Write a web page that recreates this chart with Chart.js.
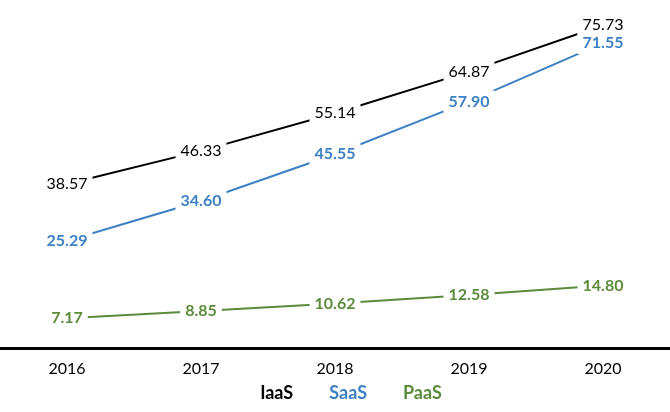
<!DOCTYPE html>
<html>
<head>
<meta charset="utf-8">
<script src="https://cdn.jsdelivr.net/npm/chart.js@4"></script>
<style>
  html, body { margin: 0; padding: 0; background: #fff; }
  #wrap { width: 670px; height: 412px; }
</style>
</head>
<body>
<div id="wrap"><canvas id="cloud-chart"></canvas></div>
<script>
const years = ['2016', '2017', '2018', '2019', '2020'];
const iaas = [38.57, 46.33, 55.14, 64.87, 75.73];
const saas = [25.29, 34.60, 45.55, 57.90, 71.55];
const paas = [7.17, 8.85, 10.62, 12.58, 14.80];

const fontFamily = 'Lato, "Open Sans", sans-serif';

// draws each value on a white box so the line breaks around it
const pointLabels = {
    id: 'pointLabels',
    afterDatasetsDraw(chart) {
        const ctx = chart.ctx;
        chart.data.datasets.forEach((ds, i) => {
            const meta = chart.getDatasetMeta(i);
            ctx.save();
            ctx.font = (ds.labelBold ? 'bold ' : '') + '16px ' + fontFamily;
            ctx.textAlign = 'center';
            ctx.textBaseline = 'middle';
            meta.data.forEach((pt, j) => {
                const txt = ds.data[j].toFixed(2);
                const w = ctx.measureText(txt).width + 10;
                ctx.fillStyle = '#fff';
                ctx.fillRect(pt.x - w / 2, pt.y - 11, w, 22);
                ctx.fillStyle = ds.borderColor;
                ctx.fillText(txt, pt.x, pt.y);
            });
            ctx.restore();
        });
    }
};

function lineSet(label, data, color, bold) {
    return {
        label: label,
        data: data,
        borderColor: color,
        backgroundColor: color,
        borderWidth: 2,
        pointRadius: 0,
        tension: 0,
        labelBold: bold
    };
}

new Chart(document.getElementById('cloud-chart'), {
    type: 'line',
    data: {
        labels: years,
        datasets: [
            lineSet('IaaS', iaas, '#000000', false),
            lineSet('SaaS', saas, '#3d80c4', true),
            lineSet('PaaS', paas, '#5b8b3b', true)
        ]
    },
    plugins: [pointLabels],
    options: {
        responsive: true,
        maintainAspectRatio: false,
        animation: false,
        layout: { padding: { top: 7, left: 0, right: 0, bottom: 0 } },
        scales: {
            x: {
                offset: true,
                grid: { display: false },
                border: { display: true, color: '#000', width: 3 },
                ticks: { color: '#000', font: { family: fontFamily, size: 16 }, padding: 2 }
            },
            y: {
                display: false,
                min: 0,
                max: 80
            }
        },
        plugins: {
            tooltip: { enabled: false },
            legend: {
                position: 'bottom',
                labels: {
                    boxWidth: 23,
                    boxHeight: 1,
                    padding: 4,
                    font: { family: fontFamily, size: 18, weight: 'bold' },
                    generateLabels(chart) {
                        return chart.data.datasets.map((ds, i) => ({
                            text: ds.label,
                            fontColor: ds.borderColor,
                            fillStyle: 'rgba(0,0,0,0)',
                            strokeStyle: 'rgba(0,0,0,0)',
                            lineWidth: 0,
                            hidden: false,
                            datasetIndex: i
                        }));
                    }
                }
            }
        }
    }
});
</script>
</body>
</html>
